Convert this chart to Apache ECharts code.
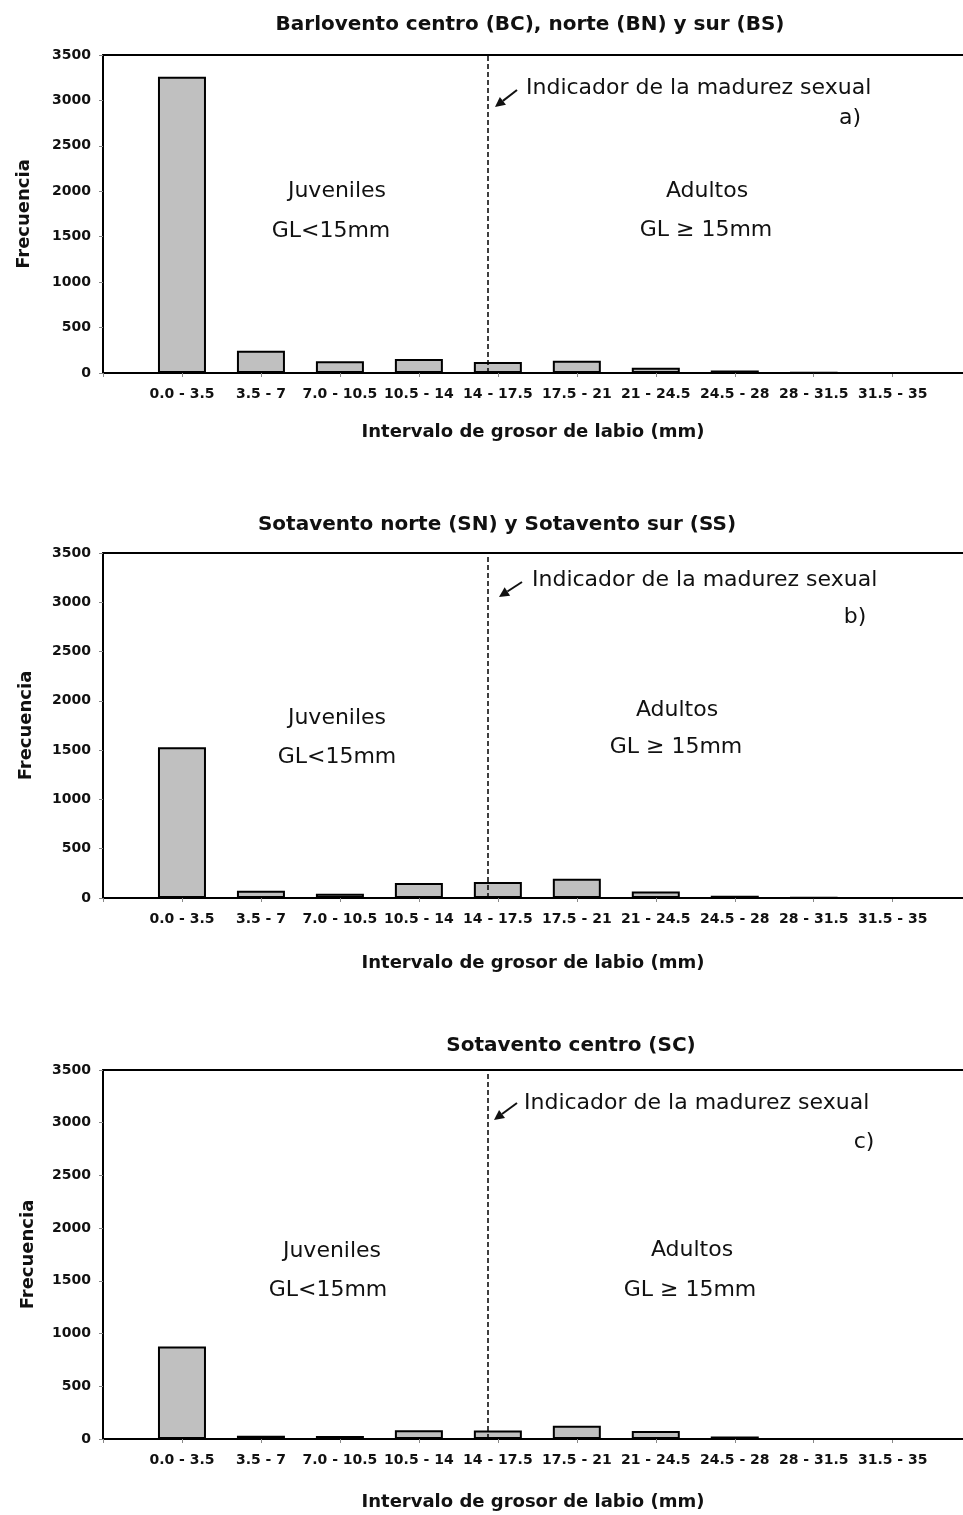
<!DOCTYPE html>
<html>
<head>
<meta charset="utf-8">
<script src="https://cdn.jsdelivr.net/npm/echarts@6/dist/echarts.min.js"></script>
<style>
  html, body { margin: 0; padding: 0; background: #fff; }
  #main { width: 963px; height: 1515px; }
</style>
</head>
<body>
<div id="main"></div>
<script>
// intervalos de grosor de labio (mm)
var categorias = ['0.0 - 3.5', '3.5 - 7', '7.0 - 10.5', '10.5 - 14', '14 - 17.5',
                  '17.5 - 21', '21 - 24.5', '24.5 - 28', '28 - 31.5', '31.5 - 35'];
// frecuencias
var barlovento = [3260, 245, 130, 155, 122, 135, 57, 28, 3, 2];
var sotaventoNS = [1530, 74, 44, 152, 162, 196, 67, 22, 3, 2];
var sotaventoC = [878, 31, 28, 82, 80, 126, 75, 24, 1, 1];
var yTicks = [0, 500, 1000, 1500, 2000, 2500, 3000, 3500];
var madurez = 3.87; // posicion de la linea (indice de intervalo)

var titulos = ['Barlovento centro (BC), norte (BN) y sur (BS)',
               'Sotavento norte (SN) y Sotavento sur (SS)',
               'Sotavento centro (SC)'];

var myChart = echarts.init(document.getElementById('main'));

var FAM = '"DejaVu Sans", sans-serif';
var REG = '22px "DejaVu Sans", sans-serif';

var paneles = [
  { top: 55, height: 318, titleX: 525, titleY: 10, nameGap: 50, yNameGap: 70, datos: barlovento,
    ind: [526, 88], letra: ['a)', 850, 118], juv: [337, 191, 331, 231], adu: [707, 191, 706, 230],
    flecha: [517, 90, 495, 107] },
  { top: 553, height: 345, titleX: 492, titleY: 510, nameGap: 56, yNameGap: 68, datos: sotaventoNS,
    ind: [532, 580], letra: ['b)', 855, 617], juv: [337, 718, 337, 757], adu: [677, 710, 676, 747],
    flecha: [522, 582, 499, 597] },
  { top: 1070, height: 369, titleX: 566, titleY: 1031, nameGap: 54, yNameGap: 66, datos: sotaventoC,
    ind: [524, 1103], letra: ['c)', 864, 1142], juv: [332, 1251, 328, 1290], adu: [692, 1250, 690, 1290],
    flecha: [517, 1103, 494, 1120] }
];

function texto(t, x, y, align) {
  return {
    type: 'text', x: x, y: y, silent: true,
    style: { text: t, font: REG, fill: '#111', align: align || 'center', verticalAlign: 'middle',
             textAlign: align || 'center', textVerticalAlign: 'middle' }
  };
}

function flecha(x1, y1, x2, y2) {
  var ang = Math.atan2(y2 - y1, x2 - x1);
  var L = 10, W = 5;
  var bx = x2 - L * Math.cos(ang), by = y2 - L * Math.sin(ang);
  var px = -Math.sin(ang) * W, py = Math.cos(ang) * W;
  return [
    { type: 'line', silent: true, shape: { x1: x1, y1: y1, x2: bx, y2: by },
      style: { stroke: '#111', lineWidth: 2 } },
    { type: 'polygon', silent: true,
      shape: { points: [[x2, y2], [bx + px, by + py], [bx - px, by - py]] },
      style: { fill: '#111' } }
  ];
}

var grids = [], xAxes = [], yAxes = [], series = [], titles = [], graphics = [];

paneles.forEach(function (p, k) {
  grids.push({ left: 103, right: 0, top: p.top, height: p.height });
  xAxes.push({
    type: 'value', gridIndex: k, min: -1, max: 9.89, interval: 1,
    name: 'Intervalo de grosor de labio (mm)', nameLocation: 'middle', nameGap: p.nameGap,
    nameTextStyle: { fontFamily: FAM, fontWeight: 'bold', fontSize: 18, color: '#111' },
    axisLine: { show: true, onZero: false, lineStyle: { color: '#000', width: 2 } },
    axisTick: { show: true, length: 4, lineStyle: { color: '#888' } },
    axisLabel: { margin: 14, color: '#111', fontFamily: FAM, fontWeight: 'bold', fontSize: 14,
                 showMaxLabel: false,
                 formatter: function (v) { return categorias[v] || ''; } },
    splitLine: { show: false }
  });
  // borde superior del marco
  xAxes.push({
    type: 'value', gridIndex: k, position: 'top', min: -1, max: 9.89,
    axisLine: { show: true, onZero: false, lineStyle: { color: '#000', width: 2 } },
    axisTick: { show: false }, axisLabel: { show: false }, splitLine: { show: false }
  });
  yAxes.push({
    type: 'value', gridIndex: k, min: yTicks[0], max: yTicks[yTicks.length - 1], interval: 500,
    name: 'Frecuencia', nameLocation: 'middle', nameGap: p.yNameGap,
    nameTextStyle: { fontFamily: FAM, fontWeight: 'bold', fontSize: 18, color: '#111' },
    axisLine: { show: true, onZero: false, lineStyle: { color: '#000', width: 2 } },
    axisTick: { show: true, length: 4, lineStyle: { color: '#888' } },
    axisLabel: { margin: 12, color: '#111', fontFamily: FAM, fontWeight: 'bold', fontSize: 14,
                 formatter: function (v) { return String(v); } },
    splitLine: { show: false }
  });
  series.push({
    type: 'bar', xAxisIndex: 2 * k, yAxisIndex: k, barWidth: 48,
    data: p.datos.map(function (v, i) { return [i, v]; }),
    itemStyle: { color: '#c0c0c0', borderColor: '#000', borderWidth: 2 },
    markLine: {
      silent: true, symbol: ['none', 'none'], label: { show: false },
      lineStyle: { color: '#000', type: [5, 3], width: 1.5 },
      data: [{ xAxis: madurez }]
    }
  });
  titles.push({
    text: titulos[k], left: p.titleX, top: p.titleY, textAlign: 'center',
    textStyle: { fontFamily: FAM, fontWeight: 'bold', fontSize: 20, color: '#111' }
  });
  graphics.push(texto('Indicador de la madurez sexual', p.ind[0], p.ind[1], 'left'));
  graphics.push(texto(p.letra[0], p.letra[1], p.letra[2]));
  graphics.push(texto('Juveniles', p.juv[0], p.juv[1]));
  graphics.push(texto('GL<15mm', p.juv[2], p.juv[3]));
  graphics.push(texto('Adultos', p.adu[0], p.adu[1]));
  graphics.push(texto('GL \u2265 15mm', p.adu[2], p.adu[3]));
  graphics = graphics.concat(flecha(p.flecha[0], p.flecha[1], p.flecha[2], p.flecha[3]));
});

var option = {
  animation: false,
  backgroundColor: '#fff',
  title: titles,
  grid: grids,
  xAxis: xAxes,
  yAxis: yAxes,
  series: series,
  graphic: graphics
};
myChart.setOption(option);
</script>
</body>
</html>
